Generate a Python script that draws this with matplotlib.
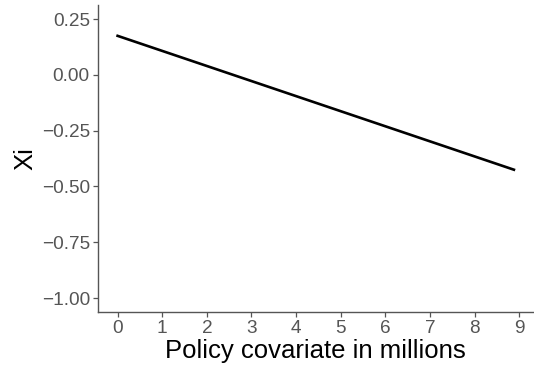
import numpy as np
import matplotlib
matplotlib.use('Agg')
import matplotlib.pyplot as plt

plt.rcParams['font.family'] = ['Liberation Sans', 'DejaVu Sans']

# fitted Xi against the policy covariate (millions)
policy = [0.0, 8.88]
xi = [0.175, -0.425]

x_ticks = list(range(0, 10))
y_ticks = [0.25, 0.00, -0.25, -0.50, -0.75, -1.00]
y_labels = ['0.25', '0.00', '\u22120.25', '\u22120.50', '\u22120.75', '\u22121.00']

fig = plt.figure(figsize=(5.34, 3.68), dpi=100)
ax = fig.add_axes([0.1826, 0.152, 0.8174, 0.834])

ax.plot(policy, xi, color='black', linewidth=1.9)

ax.set_xlim(-0.45, 9.33)
ax.set_ylim(-1.063, 0.3125)
ax.set_xticks(x_ticks)
ax.set_yticks(y_ticks)
ax.set_yticklabels(y_labels)

for side in ['top', 'right']:
    ax.spines[side].set_visible(False)
for side in ['left', 'bottom']:
    ax.spines[side].set_color('#555555')
    ax.spines[side].set_linewidth(1.0)

ax.tick_params(axis='both', direction='out', length=3.5, width=0.9,
               color='#555555', labelcolor='#555555', labelsize=13.7, pad=2)

ax.set_xlabel('Policy covariate in millions', fontsize=18.5, color='black', labelpad=2)
ax.set_ylabel('Xi', fontsize=18.5, color='black', labelpad=3)

fig.savefig('out.png', dpi=100)
